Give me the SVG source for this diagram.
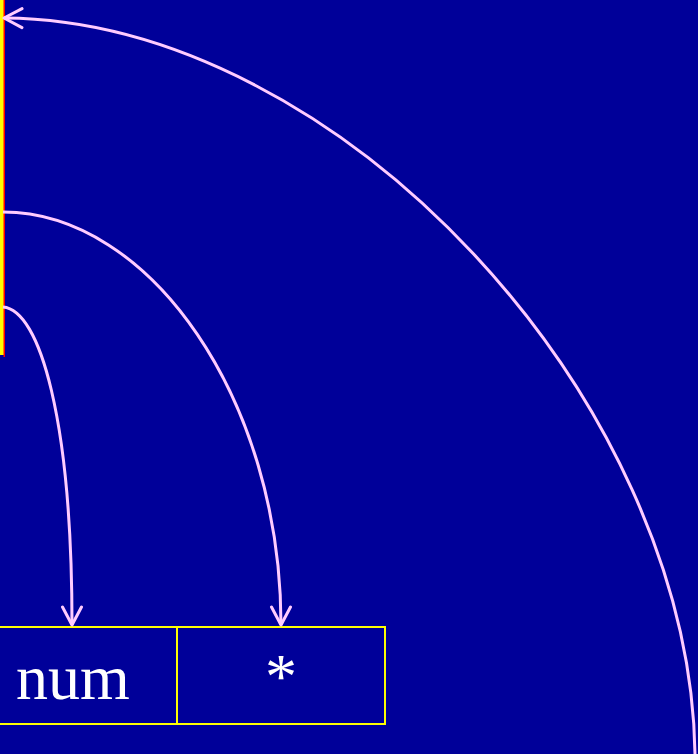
<svg xmlns="http://www.w3.org/2000/svg" width="698" height="754" viewBox="0 0 698 754">
  <defs>
    <style>
      .conn { fill: none; stroke: #FFCCFF; stroke-width: 3; }
      .box { fill: none; stroke: #FFFF00; stroke-width: 2; }
      .lbl { font-family: "Liberation Serif", "Times New Roman", serif; font-size: 64px; fill: #FFFFFF; text-anchor: middle; }
    </style>
    <marker id="arr" markerUnits="userSpaceOnUse" markerWidth="40" markerHeight="40" viewBox="-20 -20 40 40" refX="0" refY="0" orient="auto">
      <path d="M-18,-9.5 L0,0 L-18,9.5" fill="none" stroke="#FFCCFF" stroke-width="3" stroke-linecap="round" stroke-linejoin="round"/>
    </marker>
  </defs>
  <rect x="0" y="0" width="698" height="754" fill="#000099"/>
  <g id="bar">
    <rect x="0" y="0" width="4" height="355" fill="#FFFF00"/>
    <rect x="3.5" y="0" width="1.5" height="357" fill="#FF0000"/>
  </g>
  <g id="cells">
    <g id="cell-num">
      <rect class="box" x="-10" y="627" width="187" height="97"/>
      <text class="lbl" x="73" y="699">num</text>
    </g>
    <g id="cell-star">
      <rect class="box" x="177" y="627" width="208" height="97"/>
      <text class="lbl" x="281" y="698">*</text>
    </g>
  </g>
  <g id="connectors">
    <path class="conn" d="M695,754 C690,400 340,20 4,18" marker-end="url(#arr)"/>
    <path class="conn" d="M3,212 C150,212 281,400 281,625" marker-end="url(#arr)"/>
    <path class="conn" d="M3,307 C40,310 72,420 72,625" marker-end="url(#arr)"/>
  </g>
</svg>
